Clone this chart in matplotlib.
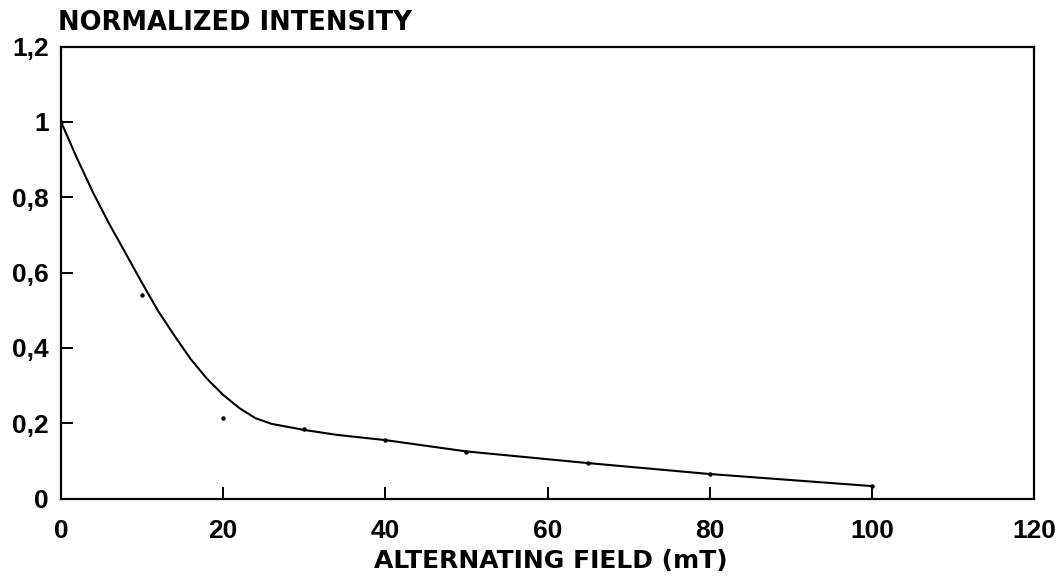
import matplotlib
matplotlib.use("Agg")
import matplotlib.pyplot as plt

# Measured data points (alternating field in mT, normalized intensity)
field_mT = [0, 10, 20, 30, 40, 50, 65, 80, 100]
intensity = [1.0, 0.540, 0.213, 0.184, 0.154, 0.124, 0.093, 0.064, 0.032]

# Fitted curve
curve_field = [0, 2, 4, 6, 8, 10, 12, 14, 16, 18, 20, 22, 24, 26, 30, 34, 40, 50, 65, 80, 100]
curve_intensity = [1.0, 0.902, 0.810, 0.727, 0.650, 0.572, 0.497, 0.432, 0.370, 0.318,
                   0.275, 0.240, 0.213, 0.198, 0.182, 0.169, 0.155, 0.125, 0.094,
                   0.065, 0.033]

x_ticks = [0, 20, 40, 60, 80, 100, 120]
x_tick_labels = ["0", "20", "40", "60", "80", "100", "120"]
y_ticks = [0, 0.2, 0.4, 0.6, 0.8, 1.0, 1.2]
y_tick_labels = ["0", "0,2", "0,4", "0,6", "0,8", "1", "1,2"]

plt.rcParams['font.family'] = ['Liberation Sans', 'DejaVu Sans']

W, H = 1064, 578
fig = plt.figure(figsize=(W / 100, H / 100), dpi=100)
left, right, top, bottom = 61, 1034, 46.5, 498.5
ax = fig.add_axes([left / W, 1 - bottom / H, (right - left) / W, (bottom - top) / H])

ax.plot(curve_field, curve_intensity, color='black', lw=1.5,
        solid_joinstyle='round', solid_capstyle='round')
ax.plot(field_mT, intensity, 'o', color='black', ms=3.2, mew=0)

ax.set_xlim(0, 120)
ax.set_ylim(0, 1.2)
ax.set_xticks(x_ticks)
ax.set_xticklabels(x_tick_labels)
ax.set_yticks(y_ticks)
ax.set_yticklabels(y_tick_labels)

for s in ax.spines.values():
    s.set_linewidth(1.6)

ax.tick_params(axis='both', direction='in', length=8.5, width=1.4, labelsize=19)
ax.tick_params(axis='x', pad=15)
ax.tick_params(axis='y', pad=9)
for lab in ax.get_xticklabels() + ax.get_yticklabels():
    lab.set_fontweight('bold')

# no tick marks at the axis ends
for t in [ax.xaxis.get_major_ticks()[0], ax.xaxis.get_major_ticks()[-1]]:
    t.tick1line.set_visible(False)
for t in [ax.yaxis.get_major_ticks()[0], ax.yaxis.get_major_ticks()[-1]]:
    t.tick1line.set_visible(False)

fig.text(58 / W, 1 - 23.5 / H, "NORMALIZED INTENSITY", fontsize=18.5, fontweight='bold',
         family='DejaVu Sans', ha='left', va='center')
fig.text(551 / W, 1 - 561 / H, "ALTERNATING FIELD (mT)", fontsize=18, fontweight='bold',
         family='DejaVu Sans', ha='center', va='center')

fig.savefig("out.png", dpi=100, facecolor='white')
